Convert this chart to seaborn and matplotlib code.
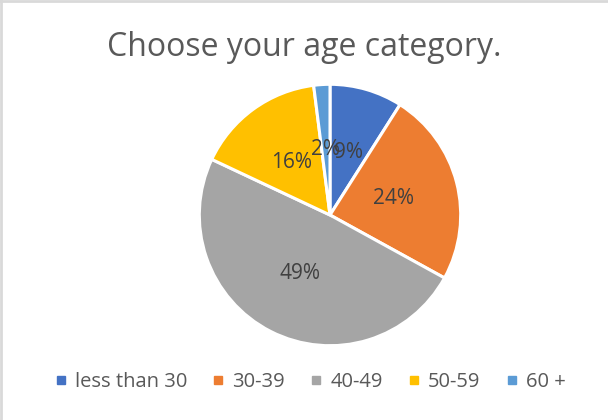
import matplotlib
matplotlib.use("Agg")
import matplotlib.pyplot as plt
from matplotlib.lines import Line2D
import seaborn as sns

categories = ["less than 30", "30-39", "40-49", "50-59", "60 +"]
values = [9, 24, 49, 16, 2]
colors = ["#4472C4", "#ED7D31", "#A5A5A5", "#FFC000", "#5B9BD5"]
title = "Choose your age category."

sns.set_theme(style="white")
plt.rcParams["font.family"] = ["Open Sans", "DejaVu Sans"]
text_color = "#595959"

fig = plt.figure(figsize=(6.08, 4.2), dpi=100)
fig.patch.set_facecolor("white")

# pie axes: centre (330, 215) px, radius ~131 px
W, H = 608, 420
cx, cy, r = 330, 215, 132
ax = fig.add_axes([(cx - r) / W, (H - cy - r) / H, 2 * r / W, 2 * r / H])
wedges, texts, autotexts = ax.pie(
    values, colors=colors, startangle=90, counterclock=False,
    autopct=lambda p: f"{p:.0f}%", pctdistance=0.5,
    wedgeprops=dict(edgecolor="white", linewidth=2.2),
    textprops=dict(color="#404040", fontsize=15),
)
ax.set_xlim(-1.01, 1.01)
ax.set_ylim(-1.01, 1.01)
ax.set_aspect("equal")
ax.axis("off")

fig.text(304 / W, 1 - 48 / H, title, ha="center", va="center",
         fontsize=23, color=text_color)

handles = [Line2D([0], [0], marker="s", linestyle="none", markersize=5.8,
                  markerfacecolor=c, markeredgecolor=c) for c in colors]
leg = fig.legend(handles, categories, loc="center", ncol=5,
                 bbox_to_anchor=(310 / W, 1 - 382 / H), frameon=False,
                 fontsize=14.5, handlelength=0.6, handletextpad=0.4,
                 columnspacing=1.25, labelcolor=text_color,
                 borderaxespad=0, borderpad=0)

# light gray border on top and left edges
fig.add_artist(Line2D([0.5 / W, 0.5 / W], [0, 1], color="#D9D9D9", linewidth=2,
                      transform=fig.transFigure))
fig.add_artist(Line2D([0, 1], [1 - 0.5 / H, 1 - 0.5 / H], color="#D9D9D9", linewidth=2,
                      transform=fig.transFigure))

fig.savefig("out.png", dpi=100)
